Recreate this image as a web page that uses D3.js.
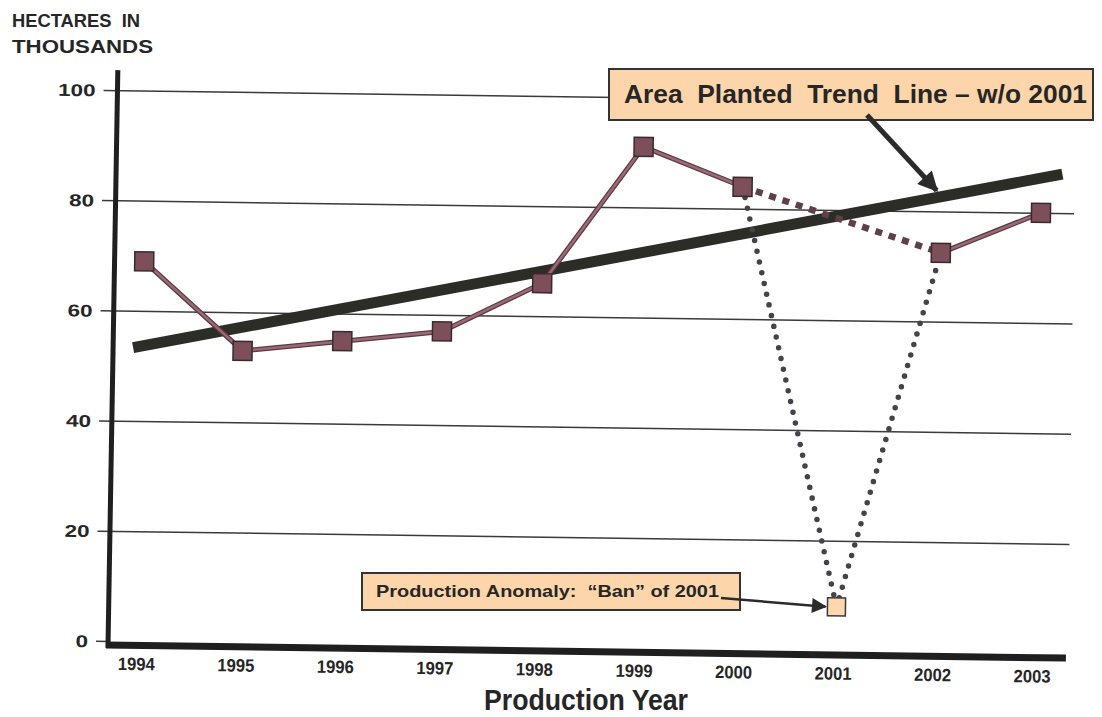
<!DOCTYPE html>
<html>
<head>
<meta charset="utf-8">
<script src="https://cdn.jsdelivr.net/npm/d3@7/dist/d3.min.js"></script>
<style>
  body { margin: 0; background: #fff; }
  svg { display: block; }
  text { font-family: "Liberation Sans", Arial, sans-serif; font-weight: bold; fill: #262626; }
</style>
</head>
<body>
<div id="chart"></div>
<script>
// data
const years = [1994, 1995, 1996, 1997, 1998, 1999, 2000, 2001, 2002, 2003];
const areaPlanted = [69, 53, 55, 57, 66, 91, 84, 8, 72.5, 80];
const yTicks = [0, 20, 40, 60, 80, 100];
const trendYears = [1993.9, 2003.21];
const trendValues = [53.3, 87.1];
const solidRuns = [[1994, 1995, 1996, 1997, 1998, 1999, 2000], [2002, 2003]];
const dottedRun = [2000, 2001, 2002];
const bridgeRun = [2000, 2002];
const anomalyYear = 2001;

const W = 1102, H = 717;
// the scan is tilted a little clockwise, rotate round the axis corner
const pivot = [106, 645];
const tilt = 0.78;
const rad = tilt * Math.PI / 180;

function toScreen(x, y) {
    const dx = x - pivot[0], dy = y - pivot[1];
    return [pivot[0] + dx * Math.cos(rad) - dy * Math.sin(rad),
            pivot[1] + dx * Math.sin(rad) + dy * Math.cos(rad)];
}

const x = d3.scaleLinear().domain([1994, 2003]).range([139, 1035]);
const y = d3.scaleLinear().domain([0, 100]).range([641, 90]);

const valueOf = yr => areaPlanted[years.indexOf(yr)];

const svg = d3.select("#chart").append("svg")
    .attr("width", W)
    .attr("height", H);

const defs = svg.append("defs");
defs.append("marker")
    .attr("id", "head")
    .attr("viewBox", "0 0 10 10")
    .attr("refX", 9).attr("refY", 5)
    .attr("markerWidth", 4.5).attr("markerHeight", 4)
    .attr("markerUnits", "strokeWidth")
    .attr("orient", "auto")
    .append("path").attr("d", "M0,0 L10,5 L0,10 z").attr("fill", "#2b2b2b");
defs.append("marker")
    .attr("id", "headSmall")
    .attr("viewBox", "0 0 10 10")
    .attr("refX", 9).attr("refY", 5)
    .attr("markerWidth", 7).attr("markerHeight", 6)
    .attr("markerUnits", "strokeWidth")
    .attr("orient", "auto")
    .append("path").attr("d", "M0,0 L10,5 L0,10 z").attr("fill", "#2b2b2b");

// y axis title
svg.append("text").attr("x", 12).attr("y", 27).style("font-size", "19px")
    .attr("xml:space", "preserve")
    .attr("textLength", 128).attr("lengthAdjust", "spacingAndGlyphs").text("HECTARES  IN");
svg.append("text").attr("x", 12).attr("y", 53).style("font-size", "19px")
    .attr("textLength", 141).attr("lengthAdjust", "spacingAndGlyphs").text("THOUSANDS");

const g = svg.append("g")
    .attr("transform", `rotate(${tilt},${pivot[0]},${pivot[1]})`);

// gridlines + tick labels
const yAxis = d3.axisLeft(y)
    .tickValues(yTicks)
    .tickSize(-(1068 - 108))
    .tickPadding(20)
    .tickFormat(d3.format("d"));

const ya = g.append("g")
    .attr("transform", "translate(108,0)")
    .call(yAxis);
ya.select(".domain").remove();
ya.selectAll(".tick line")
    .attr("x1", -12)
    .attr("stroke", "#3a3a3a")
    .attr("stroke-width", 1.5);
ya.selectAll(".tick text")
    .attr("fill", "#262626")
    .style("font-size", "17px")
    .style("font-family", "'Liberation Sans', Arial, sans-serif")
    .style("font-weight", "bold")
    .attr("textLength", d => String(d).length * 12.5)
    .attr("lengthAdjust", "spacingAndGlyphs")
    .attr("dy", "0.35em");
ya.selectAll(".tick").filter(d => d === 0).select("line").attr("x2", 0);

// axis lines
g.append("line")
    .attr("x1", 106).attr("x2", 1066)
    .attr("y1", 645).attr("y2", 645)
    .attr("stroke", "#1f1f1f").attr("stroke-width", 7);
g.append("line")
    .attr("x1", 108).attr("x2", 110)
    .attr("y1", 648).attr("y2", 70)
    .attr("stroke", "#1f1f1f").attr("stroke-width", 5);

// year labels
const xAxis = d3.axisBottom(x)
    .tickValues(years)
    .tickSize(0)
    .tickPadding(0)
    .tickFormat(d3.format("d"));
const xa = g.append("g")
    .attr("transform", "translate(-3,657)")
    .call(xAxis);
xa.select(".domain").remove();
xa.selectAll(".tick text")
    .attr("fill", "#262626")
    .style("font-size", "18px")
    .style("font-family", "'Liberation Sans', Arial, sans-serif")
    .style("font-weight", "bold")
    .attr("textLength", 37)
    .attr("lengthAdjust", "spacingAndGlyphs");

// x axis title, kept level so it stays inside the page
svg.append("text")
    .attr("x", 586).attr("y", 710)
    .attr("text-anchor", "middle")
    .style("font-size", "29px")
    .attr("textLength", 204)
    .attr("lengthAdjust", "spacingAndGlyphs")
    .text("Production Year");

// trend line
const line = d3.line().x(d => x(d[0])).y(d => y(d[1]));
g.append("path")
    .datum(d3.zip(trendYears, trendValues))
    .attr("d", line)
    .attr("fill", "none")
    .attr("stroke", "#2d2d28")
    .attr("stroke-width", 11);

// bridge 2000 -> 2002 (square dashes)
g.append("path")
    .datum(bridgeRun.map(yr => [yr, valueOf(yr)]))
    .attr("d", line)
    .attr("fill", "none")
    .attr("stroke", "#5e4049")
    .attr("stroke-width", 6.5)
    .attr("stroke-dasharray", "7,7");

// dotted drop to 2001 and back
g.append("path")
    .datum(dottedRun.map(yr => [yr, valueOf(yr)]))
    .attr("d", line)
    .attr("fill", "none")
    .attr("stroke", "#46424a")
    .attr("stroke-width", 5.5)
    .attr("stroke-linecap", "round")
    .attr("stroke-dasharray", "0,11");

// solid series runs
solidRuns.forEach(run => {
    const pts = run.map(yr => [yr, valueOf(yr)]);
    g.append("path").datum(pts).attr("d", line)
        .attr("fill", "none").attr("stroke", "#5a3a44").attr("stroke-width", 5);
    g.append("path").datum(pts).attr("d", line)
        .attr("fill", "none").attr("stroke", "#9a6a76").attr("stroke-width", 2.5);
});

// markers
const size = 19;
g.selectAll("rect.pt")
    .data(years.filter(yr => yr !== anomalyYear))
    .enter()
    .append("rect")
    .attr("class", "pt")
    .attr("x", d => x(d) - size / 2)
    .attr("y", d => y(valueOf(d)) - size / 2)
    .attr("width", size)
    .attr("height", size)
    .attr("fill", "#7c4f5b")
    .attr("stroke", "#3a2a2e")
    .attr("stroke-width", 1.5);

g.append("rect")
    .attr("x", x(anomalyYear) - 9)
    .attr("y", y(valueOf(anomalyYear)) - 9)
    .attr("width", 18)
    .attr("height", 18)
    .attr("fill", "#fdd7ae")
    .attr("stroke", "#3a3a3a")
    .attr("stroke-width", 1.5);

// callout boxes (not tilted in the scan)
function callout(x0, y0, w, h, label, fs, tx, ty, tl) {
    svg.append("rect")
        .attr("x", x0).attr("y", y0).attr("width", w).attr("height", h)
        .attr("fill", "#fcd6aa")
        .attr("stroke", "#333")
        .attr("stroke-width", 2);
    svg.append("text")
        .attr("x", tx).attr("y", ty)
        .style("font-size", fs + "px")
        .attr("xml:space", "preserve")
        .attr("textLength", tl)
        .attr("lengthAdjust", "spacingAndGlyphs")
        .text(label);
}

callout(609, 69, 484, 51, "Area  Planted  Trend  Line \u2013 w/o 2001", 25, 624, 103, 463);
callout(362, 573, 378, 37, "Production Anomaly:  \u201cBan\u201d of 2001", 17, 376, 597, 343);

// arrow from the trend callout to the trend line
const tY = 2001.95;
const tV = trendValues[0] + (trendValues[1] - trendValues[0]) * (tY - trendYears[0]) / (trendYears[1] - trendYears[0]);
const end1 = toScreen(x(tY), y(tV) - 7);
svg.append("line")
    .attr("x1", 867).attr("y1", 115)
    .attr("x2", end1[0]).attr("y2", end1[1])
    .attr("stroke", "#2b2b2b")
    .attr("stroke-width", 5)
    .attr("marker-end", "url(#head)");

// arrow from the anomaly callout to the 2001 point
const end2 = toScreen(x(anomalyYear) - 11, y(valueOf(anomalyYear)));
svg.append("line")
    .attr("x1", 721).attr("y1", 598)
    .attr("x2", end2[0]).attr("y2", end2[1])
    .attr("stroke", "#2b2b2b")
    .attr("stroke-width", 2.5)
    .attr("marker-end", "url(#headSmall)");
</script>
</body>
</html>
